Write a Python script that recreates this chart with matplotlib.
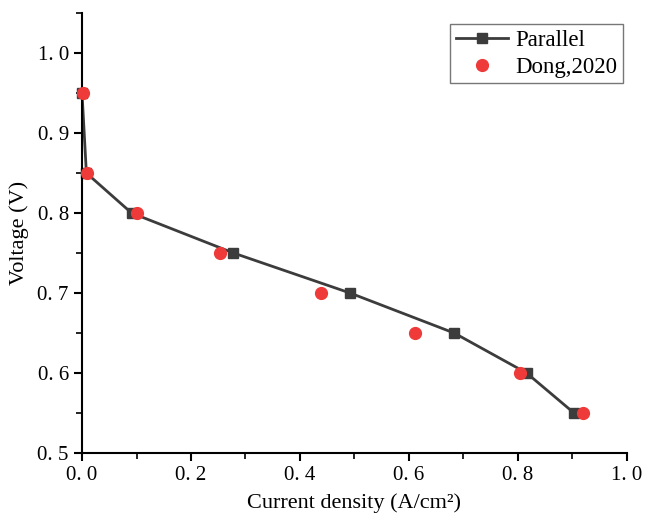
import matplotlib.pyplot as plt
from matplotlib.ticker import MultipleLocator, FuncFormatter

# --- DATA ---
parallel_x = [0.0, 0.008, 0.091, 0.278, 0.492, 0.683, 0.816, 0.903]
parallel_v = [0.95, 0.85, 0.80, 0.75, 0.70, 0.65, 0.60, 0.55]

dong_x = [0.002, 0.009, 0.100, 0.253, 0.438, 0.612, 0.804, 0.920]
dong_v = [0.95, 0.85, 0.80, 0.75, 0.70, 0.65, 0.60, 0.55]

plt.rcParams['font.family'] = ['Liberation Serif', 'DejaVu Serif']

fig = plt.figure(figsize=(6.53, 5.21), dpi=100)
ax = fig.add_axes([0.1256, 0.1305, 0.8344, 0.8445])

ax.plot(parallel_x, parallel_v, color='#3c3c3c', lw=2, marker='s', ms=7.5,
        label='Parallel', zorder=2, clip_on=False)
ax.plot(dong_x, dong_v, ls='none', marker='o', ms=8.5, color='#ef3a3a',
        label='Dong,2020', zorder=3, clip_on=False)

ax.set_xlim(0, 1.0)
ax.set_ylim(0.5, 1.05)

ax.xaxis.set_major_locator(MultipleLocator(0.2))
ax.xaxis.set_minor_locator(MultipleLocator(0.1))
ax.yaxis.set_major_locator(MultipleLocator(0.1))
ax.yaxis.set_minor_locator(MultipleLocator(0.05))

fmt = FuncFormatter(lambda v, p: f"{v:.1f}".replace('.', '. '))
ax.xaxis.set_major_formatter(fmt)
ax.yaxis.set_major_formatter(fmt)

ax.spines['top'].set_visible(False)
ax.spines['right'].set_visible(False)
ax.spines['left'].set_linewidth(1.5)
ax.spines['bottom'].set_linewidth(1.5)
ax.tick_params(which='major', direction='out', length=6, width=1.5, labelsize=15)
ax.tick_params(which='minor', direction='out', length=4, width=1.2)

ax.set_xlabel('Current density (A/cm²)', fontsize=16, labelpad=6)
ax.set_ylabel('Voltage (V)', fontsize=16, labelpad=6)

leg = ax.legend(loc='upper right', bbox_to_anchor=(0.993, 0.975), fontsize=16.5,
                frameon=True, fancybox=False, edgecolor='#555555',
                borderpad=0.25, labelspacing=0.25, handlelength=2.3,
                handletextpad=0.3, borderaxespad=0)
leg.get_frame().set_linewidth(1.0)

fig.savefig('out.png', dpi=100)
